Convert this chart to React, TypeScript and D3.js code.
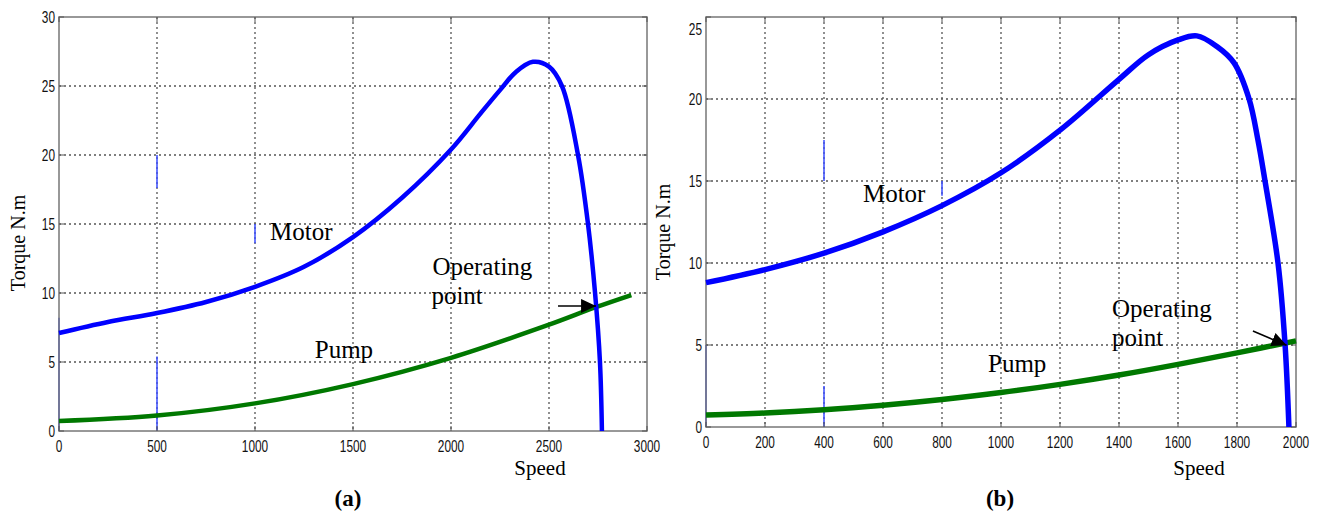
import React from 'react';
import * as d3 from 'd3';

//canvas
const width = 1317;
const height = 519;

// (a) motor / pump torque vs speed
const speedA = [0, 250, 500, 750, 1000, 1250, 1500, 1750, 2000, 2150, 2250, 2330, 2418, 2500, 2566, 2648, 2699, 2735, 2760, 2770];
const motorA = [7.1, 7.9, 8.55, 9.35, 10.45, 11.9, 14.05, 16.9, 20.4, 23.0, 24.7, 26.0, 26.75, 26.4, 25.0, 20.0, 15.0, 10.0, 5.0, 0];
const pumpSpeedA = [0, 500, 1000, 1500, 2000, 2500, 2735, 2920];
const pumpA = [0.72, 1.12, 2.0, 3.4, 5.3, 7.7, 8.95, 9.85];
const xTicksA = [0, 500, 1000, 1500, 2000, 2500, 3000];
const yTicksA = [0, 5, 10, 15, 20, 25, 30];

// (b)
const speedB = [0, 200, 400, 600, 800, 1000, 1200, 1400, 1500, 1600, 1664, 1732, 1790, 1841, 1871, 1895, 1939, 1963, 1976];
const motorB = [8.8, 9.6, 10.6, 11.9, 13.5, 15.5, 18.1, 21.2, 22.7, 23.6, 23.85, 23.2, 22.2, 20.0, 17.5, 15.0, 10.0, 5.0, 0];
const pumpSpeedB = [0, 200, 400, 600, 800, 1000, 1200, 1400, 1600, 1800, 2000];
const pumpB = [0.73, 0.85, 1.05, 1.33, 1.68, 2.1, 2.6, 3.17, 3.82, 4.52, 5.25];
const xTicksB = [0, 200, 400, 600, 800, 1000, 1200, 1400, 1600, 1800, 2000];
const yTicksB = [0, 5, 10, 15, 20, 25];

// stray blue segments left on the grid by the scope capture: [speed, torque0, torque1]
const strayA = [[0, 0, 8.2], [500, 0, 5.4], [500, 17.6, 20], [1000, 13.6, 15]];
const strayB = [[0, 0, 5], [400, 0, 2.5], [400, 15, 17.5], [800, 14.1, 15]];

const tickFont = "'Liberation Sans', Arial, sans-serif";
const serif = "'Liberation Serif', 'Times New Roman', serif";
const blue = '#0000ff';
const green = '#007800';

const Panel = ({ id, box, xMax, yMax, xTicks, yTicks, motorX, motorY, pumpX, pumpY, stray, lineW, labels, arrow, yLabelX, yLabelY, speedX, capX, topDy }) => {
  const x = d3.scaleLinear().domain([0, xMax]).range([box.left, box.right]);
  const y = d3.scaleLinear().domain([0, yMax]).range([box.bottom, box.top]);
  const line = d3.line().x(d => x(d[0])).y(d => y(d[1])).curve(d3.curveCatmullRom.alpha(0.5));
  const motorPts = motorX.map((s, i) => [s, motorY[i]]);
  const pumpPts = pumpX.map((s, i) => [s, pumpY[i]]);

  return (
    <g>
      <defs>
        <marker id={`arrow-${id}`} markerUnits="userSpaceOnUse" markerWidth={16} markerHeight={14}
          refX={15} refY={7} orient="auto">
          <path d="M0,0 L15,7 L0,14 Z" fill="#000" />
        </marker>
      </defs>
      {/* grid */}
      {xTicks.slice(1, -1).map(t => (
        <line key={`gx${t}`} x1={x(t)} x2={x(t)} y1={box.top} y2={box.bottom}
          stroke="#555" strokeWidth={1.3} strokeDasharray="2,3" />
      ))}
      {yTicks.slice(1, -1).map(t => (
        <line key={`gy${t}`} x1={box.left} x2={box.right} y1={y(t)} y2={y(t)}
          stroke="#555" strokeWidth={1.3} strokeDasharray="2,3" />
      ))}
      {stray.map((s, i) => (
        <line key={`st${i}`} x1={x(s[0])} x2={x(s[0])} y1={y(s[1])} y2={y(s[2])}
          stroke="#3a4dff" strokeWidth={1.5} />
      ))}
      {/* frame + ticks */}
      <rect x={box.left} y={box.top} width={box.right - box.left} height={box.bottom - box.top}
        fill="none" stroke="#777" strokeWidth={1.5} />
      {xTicks.map(t => (
        <g key={`tx${t}`}>
          <line x1={x(t)} x2={x(t)} y1={box.bottom} y2={box.bottom - 5} stroke="#555" />
          <line x1={x(t)} x2={x(t)} y1={box.top} y2={box.top + 5} stroke="#555" />
          <text transform={`translate(${x(t)},${box.bottom + 21}) scale(0.74,1)`} textAnchor="middle"
            fontFamily={tickFont} fontSize={16} fill="#111">{t}</text>
        </g>
      ))}
      {yTicks.map(t => (
        <g key={`ty${t}`}>
          <line x1={box.left} x2={box.left + 5} y1={y(t)} y2={y(t)} stroke="#555" />
          <line x1={box.right} x2={box.right - 5} y1={y(t)} y2={y(t)} stroke="#555" />
          <text transform={`translate(${box.left - 4},${y(t) + (t === yMax ? topDy : 0)}) scale(0.74,1)`}
            dy="0.36em" textAnchor="end" fontFamily={tickFont} fontSize={16} fill="#111">{t}</text>
        </g>
      ))}
      {/* curves */}
      <path d={line(pumpPts)} fill="none" stroke={green} strokeWidth={lineW} />
      <path d={line(motorPts)} fill="none" stroke={blue} strokeWidth={lineW} strokeLinejoin="round" />
      {/* annotations */}
      {labels.map((l, i) => (
        <text key={`lb${i}`} x={x(l.s)} y={y(l.t)} fontFamily={serif} fontSize={25} fill="#000">{l.text}</text>
      ))}
      <line x1={x(arrow[0])} y1={y(arrow[1])} x2={x(arrow[2])} y2={y(arrow[3])}
        stroke="#000" strokeWidth={1.6} markerEnd={`url(#arrow-${id})`} />
      <text transform={`translate(${yLabelX},${yLabelY}) rotate(-90)`} textAnchor="middle"
        fontFamily={serif} fontSize={20} fill="#000">Torque N.m</text>
      <text x={speedX} y={475} textAnchor="middle" fontFamily={serif} fontSize={21} fill="#000">Speed</text>
      <text x={capX} y={506} textAnchor="middle" fontFamily={serif} fontSize={23} fontWeight="bold" fill="#000">
        {`(${id})`}
      </text>
    </g>
  );
};

const App = () => (
  <svg width={width} height={height} style={{ position: 'absolute', left: 0, top: 0, display: 'block', background: '#fff' }}>
    <Panel
      id="a"
      box={{ left: 59, right: 647, top: 17, bottom: 431 }}
      xMax={3000} yMax={30} xTicks={xTicksA} yTicks={yTicksA}
      motorX={speedA} motorY={motorA} pumpX={pumpSpeedA} pumpY={pumpA}
      stray={strayA} lineW={4.5}
      labels={[
        { text: 'Motor', s: 1077, t: 13.84 },
        { text: 'Operating', s: 1905, t: 11.3 },
        { text: 'point', s: 1900, t: 9.2 },
        { text: 'Pump', s: 1305, t: 5.3 },
      ]}
      arrow={[2546, 9.06, 2740, 9.06]}
      yLabelX={25} yLabelY={243} speedX={540} capX={348} topDy={0}
    />
    <Panel
      id="b"
      box={{ left: 706, right: 1296, top: 17, bottom: 427 }}
      xMax={2000} yMax={25} xTicks={xTicksB} yTicks={yTicksB}
      motorX={speedB} motorY={motorB} pumpX={pumpSpeedB} pumpY={pumpB}
      stray={strayB} lineW={5.5}
      labels={[
        { text: 'Motor', s: 532, t: 13.7 },
        { text: 'Operating', s: 1376, t: 6.7 },
        { text: 'point', s: 1376, t: 4.95 },
        { text: 'Pump', s: 956, t: 3.35 },
      ]}
      arrow={[1854, 5.85, 1968, 4.98]}
      yLabelX={670} yLabelY={232} speedX={1199} capX={1000} topDy={12}
    />
  </svg>
);

export default App;
